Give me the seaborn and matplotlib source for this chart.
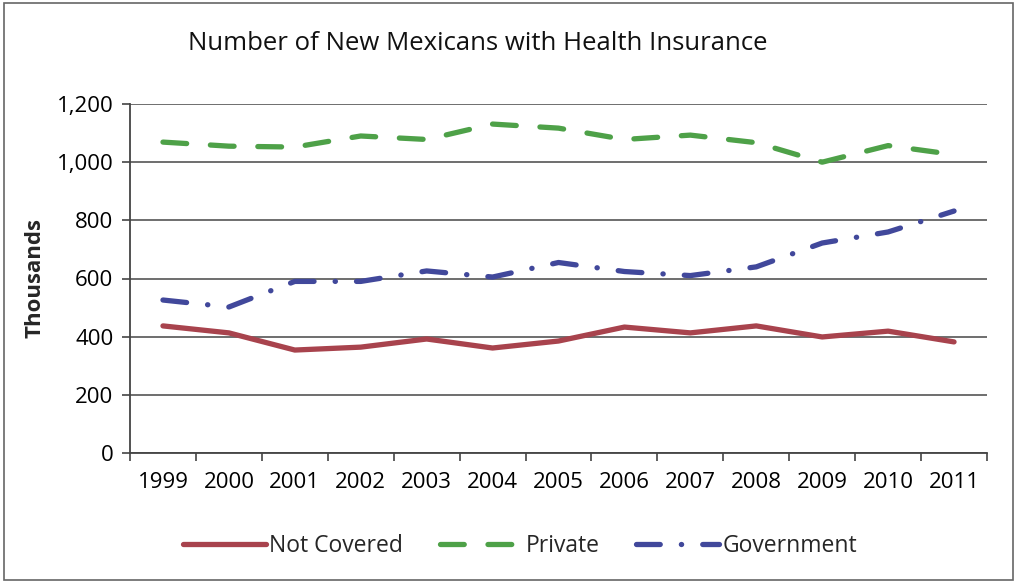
import matplotlib
matplotlib.use("Agg")
import matplotlib.pyplot as plt
import seaborn as sns
import pandas as pd
import numpy as np
from matplotlib.ticker import FuncFormatter, FixedLocator

years = ["1999","2000","2001","2002","2003","2004","2005","2006","2007","2008","2009","2010","2011"]
not_covered = [437, 413, 354, 364, 392, 361, 385, 433, 413, 437, 399, 419, 382]
private = [1069, 1055, 1052, 1090, 1078, 1131, 1117, 1078, 1093, 1067, 1000, 1057, 1026]
government = [526, 502, 590, 590, 626, 605, 655, 624, 610, 640, 722, 760, 832]

sns.set_theme(style="white")
plt.rcParams['font.family'] = ['Open Sans', 'Roboto', 'DejaVu Sans']

fig = plt.figure(figsize=(10.17, 5.82), dpi=100)
ax = fig.add_axes([130/1017, 1-453/582, (987-130)/1017, (453-104)/582])

x = np.arange(len(years))
df = pd.DataFrame({"x": x, "Not Covered": not_covered, "Private": private, "Government": government})

lw = 3.8
sns.lineplot(data=df, x="x", y="Not Covered", ax=ax, color="#A8434D", lw=lw,
             solid_capstyle="round", label="Not Covered")
sns.lineplot(data=df, x="x", y="Private", ax=ax, color="#4EA148", lw=lw,
             dashes=(4.5, 4.5), dash_capstyle="round", label="Private")
sns.lineplot(data=df, x="x", y="Government", ax=ax, color="#41489B", lw=lw,
             dashes=(4.5, 4.0, 0.05, 4.0), dash_capstyle="round", label="Government")

ax.set_xlim(-0.5, len(years) - 0.5)
ax.set_ylim(0, 1200)
ax.set_yticks(np.arange(0, 1201, 200))
ax.yaxis.set_major_formatter(FuncFormatter(lambda v, p: f"{int(v):,}"))
ax.set_xticks(x)
ax.set_xticklabels(years)
ax.xaxis.set_minor_locator(FixedLocator(np.arange(-0.5, len(years), 1.0)))
ax.tick_params(axis="x", which="major", length=0, labelsize=16, pad=14, colors="black")
ax.tick_params(axis="x", which="minor", length=6, width=1.2, color="#444444", direction="out", bottom=True)
ax.tick_params(axis="y", which="major", length=6, width=1.2, color="#444444", direction="out", left=True,
               labelsize=16, pad=6, colors="black")
ax.grid(axis="y", color="#555555", lw=1.2)
ax.set_axisbelow(True)
for s in ["top", "right"]:
    ax.spines[s].set_visible(False)
for s in ["left", "bottom"]:
    ax.spines[s].set_color("#444444")
    ax.spines[s].set_linewidth(1.3)

ax.set_xlabel("")
ax.set_ylabel("Thousands", fontsize=16, fontweight="bold", labelpad=8)

fig.text(478/1017, 1-43/582, "Number of New Mexicans with Health Insurance",
         ha="center", va="center", fontsize=18.5, color="#111111")

leg = ax.legend(loc="center", bbox_to_anchor=(520/1017, 1-546/582), bbox_transform=fig.transFigure,
                ncol=3, frameon=False, fontsize=16.5, handlelength=3.6, columnspacing=1.6, handletextpad=0.15)

fig.patches.append(plt.Rectangle((0.004, 0.004), 0.992, 0.99, transform=fig.transFigure,
                                 fill=False, edgecolor="#666666", lw=1.2))

fig.savefig("out.png", dpi=100, facecolor="white")
